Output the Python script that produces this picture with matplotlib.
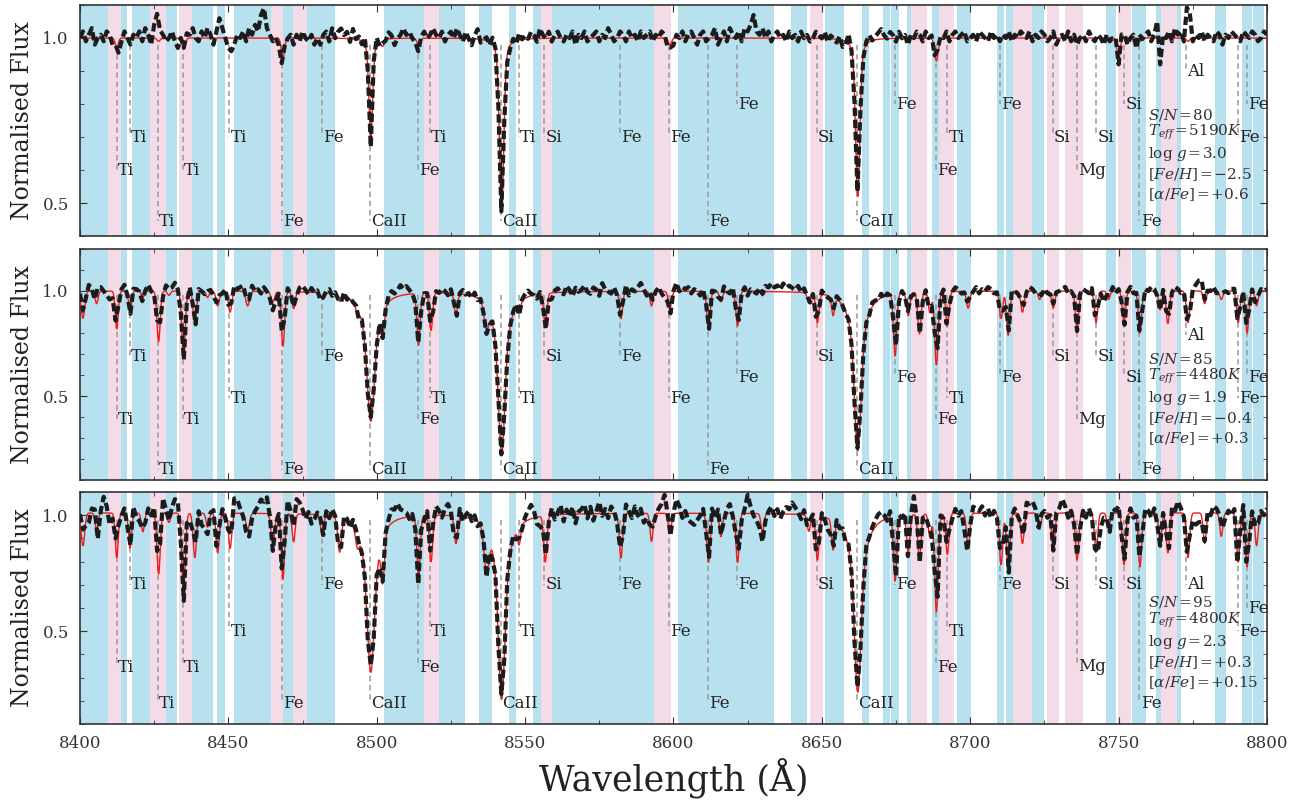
import numpy as np
import matplotlib.pyplot as plt
from matplotlib.ticker import MultipleLocator

plt.rcParams['font.family'] = ['DejaVu Serif']
plt.rcParams['mathtext.fontset'] = 'dejavuserif'

# shaded wavelength windows (Angstrom)
blue_bands = [(8400.0, 8409.3), (8413.8, 8415.8), (8417.4, 8423.6), (8428.9, 8432.8),
              (8437.6, 8444.9), (8446.2, 8448.9), (8451.9, 8464.4), (8468.3, 8471.7),
              (8476.4, 8485.9), (8502.4, 8515.9), (8521.0, 8529.7), (8534.5, 8538.9),
              (8544.6, 8546.9), (8552.5, 8555.3), (8559.1, 8593.5), (8601.6, 8633.9),
              (8639.6, 8644.9), (8651.2, 8657.5), (8663.5, 8665.9), (8670.5, 8673.0),
              (8673.3, 8676.0), (8678.6, 8680.1), (8687.0, 8689.5), (8695.5, 8700.4),
              (8709.0, 8711.4), (8712.0, 8714.5), (8720.9, 8724.9), (8745.6, 8749.1),
              (8754.5, 8759.1), (8762.6, 8764.2), (8769.6, 8771.1), (8782.6, 8786.1),
              (8791.5, 8795.1), (8795.4, 8799.1)]
pink_bands = [(8409.3, 8413.8), (8423.6, 8428.9), (8433.4, 8437.6), (8464.4, 8468.3),
              (8471.7, 8476.4), (8515.9, 8521.0), (8555.3, 8559.1), (8593.5, 8599.1),
              (8646.0, 8650.5), (8680.1, 8685.3), (8689.5, 8694.5), (8714.5, 8720.9),
              (8725.9, 8729.8), (8732.0, 8737.9), (8749.7, 8754.1), (8764.2, 8769.6)]

# absorption lines of the model spectra: centre, width, depth in each panel
line_wl = [8401.0, 8405.6, 8412.4, 8416.9, 8421.2, 8426.5, 8430.0, 8434.9, 8438.7, 8443.0,
           8446.4, 8450.6, 8456.5, 8465.0, 8468.4, 8472.0, 8481.6, 8487.5, 8493.5, 8502.0,
           8514.1, 8518.3, 8526.7, 8537.0, 8548.0, 8556.8, 8582.3, 8592.6, 8598.8, 8611.8,
           8616.0, 8621.6, 8630.0, 8645.6, 8648.5, 8653.8, 8674.7, 8679.1, 8682.9, 8686.4,
           8688.6, 8692.3, 8699.3, 8710.4, 8712.8, 8717.6, 8723.4, 8728.0, 8736.0, 8742.4,
           8746.6, 8750.0, 8751.8, 8757.2, 8764.0, 8766.6, 8773.4, 8779.0, 8784.6, 8790.3,
           8793.3, 8796.5]
line_sigma = [0.6, 0.5, 0.5, 0.5, 0.5, 0.55, 0.5, 0.6, 0.55, 0.5,
              0.55, 0.55, 0.6, 0.6, 0.55, 0.5, 0.5, 0.6, 0.6, 0.6,
              0.55, 0.55, 0.55, 0.8, 0.5, 0.55, 0.55, 0.5, 0.55, 0.55,
              0.5, 0.55, 0.5, 0.5, 0.55, 0.5, 0.55, 0.55, 0.55, 0.5,
              0.6, 0.55, 0.55, 0.55, 0.55, 0.55, 0.5, 0.55, 0.55, 0.55,
              0.5, 0.5, 0.55, 0.55, 0.5, 0.55, 0.55, 0.5, 0.5, 0.55,
              0.55, 0.5]
depth_p1 = [0.0, 0.0, 0.03, 0.0, 0.0, 0.01, 0.0, 0.03, 0.0, 0.0,
            0.0, 0.0, 0.0, 0.0, 0.06, 0.0, 0.0, 0.0, 0.0, 0.02,
            0.02, 0.0, 0.0, 0.0, 0.0, 0.0, 0.0, 0.0, 0.02, 0.0,
            0.0, 0.0, 0.0, 0.0, 0.0, 0.0, 0.0, 0.0, 0.0, 0.0,
            0.07, 0.0, 0.0, 0.0, 0.0, 0.0, 0.0, 0.0, 0.0, 0.0,
            0.0, 0.07, 0.0, 0.01, 0.0, 0.0, 0.01, 0.0, 0.0, 0.0,
            0.0, 0.0]
depth_p2 = [0.13, 0.06, 0.18, 0.10, 0.03, 0.24, 0.02, 0.30, 0.16, 0.03,
            0.07, 0.10, 0.07, 0.05, 0.26, 0.08, 0.03, 0.03, 0.03, 0.13,
            0.25, 0.18, 0.10, 0.12, 0.05, 0.15, 0.13, 0.07, 0.08, 0.18,
            0.05, 0.165, 0.02, 0.05, 0.14, 0.09, 0.30, 0.11, 0.20, 0.10,
            0.35, 0.165, 0.08, 0.13, 0.21, 0.10, 0.04, 0.08, 0.18, 0.15,
            0.04, 0.0, 0.15, 0.20, 0.09, 0.155, 0.15, 0.06, 0.04, 0.15,
            0.20, 0.07]
depth_p3 = [0.14, 0.07, 0.19, 0.15, 0.08, 0.26, 0.04, 0.34, 0.19, 0.06,
            0.17, 0.15, 0.07, 0.13, 0.28, 0.12, 0.09, 0.15, 0.07, 0.22,
            0.27, 0.20, 0.12, 0.20, 0.08, 0.20, 0.19, 0.12, 0.08, 0.21,
            0.10, 0.21, 0.08, 0.07, 0.19, 0.13, 0.28, 0.16, 0.19, 0.10,
            0.42, 0.175, 0.14, 0.22, 0.25, 0.13, 0.07, 0.15, 0.20, 0.16,
            0.07, 0.0, 0.22, 0.23, 0.13, 0.17, 0.19, 0.13, 0.10, 0.21,
            0.23, 0.14]

# Ca II triplet: gaussian core + lorentzian wings per panel
caii_wl = [8498.0, 8542.1, 8662.1]
caii_core = [[0.20, 0.36, 0.32], [0.30, 0.40, 0.40], [0.33, 0.42, 0.40]]
caii_core_sigma = [[0.6, 0.7, 0.7], [1.1, 1.0, 1.0], [1.1, 1.0, 1.0]]
caii_wing = [[0.11, 0.17, 0.16], [0.32, 0.37, 0.36], [0.35, 0.375, 0.365]]
caii_wing_hwhm = [[0.9, 1.1, 1.1], [2.6, 2.5, 2.5], [2.6, 2.6, 2.6]]
continuum = [1.0, 1.0, 1.01]

# identified lines and label heights in each panel
label_wl = [8412.4, 8416.9, 8426.2, 8434.6, 8450.3, 8468.1, 8481.5, 8497.8, 8513.8, 8517.8,
            8541.8, 8547.9, 8556.4, 8582.0, 8598.6, 8611.5, 8621.3, 8648.2, 8661.8, 8674.6,
            8688.5, 8692.3, 8710.0, 8727.8, 8735.9, 8742.4, 8751.8, 8757.0, 8772.7, 8790.3,
            8793.2]
label_txt = ['Ti', 'Ti', 'Ti', 'Ti', 'Ti', 'Fe', 'Fe', 'CaII', 'Fe', 'Ti',
             'CaII', 'Ti', 'Si', 'Fe', 'Fe', 'Fe', 'Fe', 'Si', 'CaII', 'Fe',
             'Fe', 'Ti', 'Fe', 'Si', 'Mg', 'Si', 'Si', 'Fe', 'Al', 'Fe',
             'Fe']
label_y_p1 = [0.60, 0.70, 0.445, 0.60, 0.70, 0.445, 0.70, 0.445, 0.60, 0.70,
              0.445, 0.70, 0.70, 0.70, 0.70, 0.445, 0.80, 0.70, 0.445, 0.80,
              0.60, 0.70, 0.80, 0.70, 0.60, 0.70, 0.80, 0.445, 0.90, 0.70,
              0.80]
label_y_p2 = [0.39, 0.69, 0.15, 0.39, 0.49, 0.15, 0.69, 0.15, 0.39, 0.49,
              0.15, 0.49, 0.69, 0.69, 0.49, 0.15, 0.59, 0.69, 0.15, 0.59,
              0.39, 0.49, 0.59, 0.69, 0.39, 0.69, 0.59, 0.15, 0.79, 0.49,
              0.59]
label_y_p3 = [0.345, 0.70, 0.19, 0.345, 0.50, 0.19, 0.70, 0.19, 0.345, 0.50,
              0.19, 0.50, 0.70, 0.70, 0.50, 0.19, 0.70, 0.70, 0.19, 0.70,
              0.345, 0.50, 0.70, 0.70, 0.35, 0.70, 0.70, 0.19, 0.70, 0.50,
              0.60]

# observed minus model, in units of 0.01, one value per Angstrom from 8400 to 8800
resid_p1 = [0, 2, -1, 1, 3, -2, 0, 1, -1, 2,
            1, -2, 0, -3, -1, 2, 0, -2, 1, 0,
            2, -1, 3, 1, -2, 4, 8, 3, 1, -1,
            0, 2, -1, -3, 1, 0, 2, 1, 3, 0,
            -1, 2, 0, 3, 1, -2, 2, 6, 3, 0,
            -3, -4, -2, 1, 0, 2, -1, 3, 1, 4,
            2, 7, 9, 3, 1, -1, 0, -2, -3, 1,
            0, 1, -2, 1, -1, 2, 0, -1, 1, -2,
            0, -2, 1, 2, -1, 3, 0, 2, 3, 1,
            2, -1, 3, 0, 1, -1, 2, 0, -2, 3,
            2, -1, 1, 0, 2, 1, -2, 0, 1, 3,
            1, 2, 0, -1, -2, 1, 2, 0, 1, 3,
            1, 0, 2, -1, 1, 2, 0, 3, 1, -1,
            2, 0, -2, 1, 3, -1, 0, 1, -1, 2,
            1, -2, 0, 1, -2, -1, 1, -1, 2, 0,
            1, 0, 2, 1, -1, 3, 1, 0, 2, -1,
            1, 2, 0, -1, 1, 0, 2, -2, 1, 0,
            2, -1, 0, 1, 2, -1, 1, 0, 3, 1,
            -1, 0, 2, 1, -1, 2, 0, 1, -1, 2,
            0, 1, 2, -1, 1, 0, 2, 1, -2, -1,
            -2, 1, 0, 2, -1, 1, 2, 0, -2, 1,
            2, -1, 0, 1, 3, -2, 0, 2, -1, 3,
            1, 0, 2, -1, 3, 2, 4, 7, 2, 1,
            3, 0, 2, -1, 1, 2, 0, 1, -1, 2,
            0, 1, -1, 2, 0, 1, -1, 0, 2, 1,
            0, 2, -1, 1, 0, -1, 1, -2, -1, 3,
            0, -2, 1, 2, -1, 1, 2, 0, 1, 2,
            3, 1, 0, 2, 1, -1, 2, 0, 1, -2,
            1, 0, 2, 1, -1, 2, 0, 1, -1, 2,
            1, 0, 2, -1, 1, 2, 0, 1, 2, -1,
            0, 1, -1, 2, 1, 0, -1, 2, 0, 1,
            -1, 1, 0, 2, -1, 1, 0, 2, 1, 0,
            2, -1, 1, 0, 2, 1, -1, 0, 2, -2,
            0, 1, -1, 2, -1, 1, -2, 0, 1, -1,
            2, 0, -1, 1, 0, -2, 1, -1, 0, 1,
            -1, 2, 1, -2, 0, 1, -3, 2, 0, 1,
            2, -1, 1, 5, -8, 1, 0, 2, -1, 3,
            1, 2, -1, 10, 8, -1, 1, 0, 2, -1,
            1, 0, -1, 2, 1, -2, 1, 0, 2, 1,
            0, -1, 2, 1, 0, 2, 1, -1, 0, 2,
            1]
resid_p2 = [2, 4, 0, 3, 1, -1, 6, 2, 0, -2,
            -4, -3, -1, 2, 1, 3, 0, -1, 2, 1,
            0, -2, 1, 3, 0, -1, 2, 1, -2, 3,
            3, 2, 4, 1, -1, -3, 0, 2, 1, -2,
            2, 0, -1, 3, 1, -2, 0, 2, -1, 1,
            -1, 2, 3, 1, 2, 3, 2, 1, 3, 0,
            1, -1, 2, 0, -2, -4, -3, 0, 1, 2,
            2, 0, 1, -1, 2, 3, 1, -1, 2, 0,
            1, -2, 0, 1, 2, -1, 1, 0, -1, 2,
            -1, 1, 0, 2, -2, 1, 0, -1, 2, 1,
            0, 2, -1, 1, 3, 4, 2, 3, 5, 3,
            4, 2, 0, -1, 1, -2, 0, 1, 2, -1,
            1, 0, 2, 1, -1, 2, 0, -2, 1, 2,
            0, 1, -1, 2, -1, 1, 0, -2, -1, 1,
            0, 2, -1, 1, -2, 0, 1, 2, -1, 1,
            2, 3, 1, 0, -2, 1, -1, -3, -2, -3,
            1, 2, 0, -1, 3, 1, -2, 2, 0, 1,
            3, 0, -1, 2, 1, -2, 4, 1, 0, -1,
            2, -1, 0, 1, 3, -2, 1, 0, 2, 4,
            1, -2, 3, 1, 0, 2, -1, -3, -2, -3,
            1, 4, 0, 2, 1, 2, -1, 1, 0, -2,
            1, 0, -1, 2, 0, -2, 1, 3, 0, -1,
            2, 1, -1, 0, 2, -2, 1, 0, -1, 2,
            1, 3, 2, 4, 2, 3, 1, 4, 2, 3,
            2, 1, 3, 0, 2, 1, -1, 0, -2, 1,
            2, 0, -1, 1, 3, 2, 1, 0, -1, 1,
            0, -1, 1, 2, 0, 1, -1, 2, 1, 0,
            2, -1, 1, 0, 2, 1, -2, 1, 0, 2,
            1, -1, 2, 0, -2, 1, 0, -1, 2, 1,
            0, 2, -1, 1, 0, 2, 1, -1, 0, 2,
            1, 0, 2, -1, 1, 0, 2, 1, -1, 0,
            1, -2, 0, 1, 2, 0, -1, 2, 1, 0,
            2, 1, -1, 2, 0, 1, -1, 0, 2, 1,
            0, 1, 2, -1, 0, 1, -1, 2, 1, 0,
            -1, 2, 0, 1, -1, -5, 0, 1, 2, -1,
            1, 0, -2, 1, 2, -1, 1, 0, -2, 1,
            0, 2, 1, -1, 0, 2, -1, 1, 0, 2,
            1, -1, 0, -2, -2, 1, 3, 5, 6, 2,
            1, 0, 2, -1, 1, 2, 0, -1, 1, 2,
            0, -1, 1, 2, 0, 1, -1, 2, 1, 0,
            1]
resid_p3 = [3, 7, -2, -4, 2, 5, -6, 1, 7, 3,
            -5, -2, 3, 4, -1, 2, -3, 1, 4, -2,
            -3, 1, -2, 2, -1, 3, 1, 4, 7, 2,
            1, 3, 6, 5, -2, -4, 2, -3, 1, 4,
            2, -5, -6, -3, 1, 2, -1, 4, 2, -2,
            1, 3, 7, 6, 2, -1, -3, -5, -2, 1,
            3, 6, 5, 7, 2, -3, -1, 1, -2, 4,
            6, 3, 7, 8, 5, 2, -2, 1, -4, -2,
            1, 3, -2, 2, -1, 3, 1, -1, -2, 2,
            1, -2, 3, 5, 2, -1, 1, -2, 3, -1,
            2, -3, 1, 4, 3, 6, 5, 7, 4, 3,
            2, -1, 1, -2, -3, 1, -2, 3, 2, 5,
            4, 2, -1, 3, 5, 2, -3, 1, 4, -2,
            1, 3, -1, 2, -2, 1, 3, -1, 2, -3,
            1, -2, 2, -1, 3, 1, 2, -2, 3, -1,
            2, 4, 6, 3, -3, -4, 1, 2, -1, 3,
            -2, 1, 4, -3, 2, -1, 3, -4, 1, 2,
            4, -2, 3, -3, 1, 5, -1, 2, -2, 3,
            1, -3, 2, -1, 4, 1, -2, 3, -1, 2,
            -4, -2, 1, 3, -1, 2, 4, 8, 3, -2,
            1, 6, 3, -2, 1, -3, -4, -5, -3, -1,
            2, -1, 1, 4, -2, 3, 1, -2, 2, 4,
            -1, 3, 1, -2, 2, 8, 3, -1, -3, -5,
            -4, -2, 1, 3, -1, 2, -2, 1, 3, 2,
            5, 3, 1, -2, 2, -1, 3, 1, -2, 1,
            2, -1, -5, -3, 1, 2, -1, 1, -2, 2,
            1, -2, 2, 1, -1, 3, 1, 2, 3, 4,
            4, 2, -1, 3, 1, -2, 2, -1, 3, -2,
            4, 8, 3, -2, 1, -1, 2, -3, 1, -2,
            2, -1, 3, 1, -2, 2, -1, 1, -6, -4,
            1, 3, 2, 1, 3, -1, 2, -2, 1, -1,
            2, -1, 3, -2, 1, 2, -1, 3, 1, 5,
            4, 5, 2, -1, 3, 1, -2, 2, -1, 3,
            2, 6, 3, -2, 1, -1, 2, -3, 1, -2,
            2, -1, -3, -8, -6, -2, 1, -3, 2, 1,
            3, -2, 1, -1, 2, -2, 1, 3, -1, 2,
            1, -2, 2, -3, -1, 2, 1, -2, 3, 1,
            5, 2, -1, -2, 1, -3, -5, -4, -2, 1,
            2, -1, 3, 2, 4, 1, -2, 1, -1, 3,
            -3, 2, 5, -1, -2, 1, 3, 4, 1, -1,
            2]

# stellar parameters
snr = ['80', '85', '95']
teff = ['5190', '4480', '4800']
logg = ['3.0', '1.9', '2.3']
feh = ['\u22122.5', '\u22120.4', '+0.3']
alpha_fe = ['+0.6', '+0.3', '+0.15']

depths = [depth_p1, depth_p2, depth_p3]
resids = [resid_p1, resid_p2, resid_p3]
label_ys = [label_y_p1, label_y_p2, label_y_p3]
ylims = [(0.4, 1.1), (0.1, 1.2), (0.1, 1.1)]


def model_flux(wl, k):
    f = np.full_like(wl, continuum[k])
    for c, s, d in zip(line_wl, line_sigma, depths[k]):
        f *= 1 - d * np.exp(-0.5 * ((wl - c) / s) ** 2)
    for j, c in enumerate(caii_wl):
        core = caii_core[k][j] * np.exp(-0.5 * ((wl - c) / caii_core_sigma[k][j]) ** 2)
        wing = caii_wing[k][j] / (1 + ((wl - c) / caii_wing_hwhm[k][j]) ** 2)
        f *= 1 - core - wing
    return f


wl_model = np.arange(8400, 8800.05, 0.1)
wl_obs = np.arange(8400, 8801, 1.0)

fig = plt.figure(figsize=(13, 8.05), dpi=100)
boxes = [(0.0615, 0.7068, 0.9131, 0.2870),
         (0.0615, 0.4037, 0.9131, 0.2870),
         (0.0615, 0.1006, 0.9131, 0.2882)]
text_offsets = [114, 131, 153, 174, 194]
eq = '\u200a=\u200a'

for k in range(3):
    ax = fig.add_axes(boxes[k])
    for a, b in blue_bands:
        ax.axvspan(a, b, color='#b7e1ee', lw=0, zorder=0)
    for a, b in pink_bands:
        ax.axvspan(a, b, color='#f3dbe8', lw=0, zorder=0)

    for x, t, y in zip(label_wl, label_txt, label_ys[k]):
        ax.plot([x, x], [0.98, y], color='#999999', lw=1.1,
                linestyle=(0, (3.5, 2.5)), zorder=1)
        ax.text(x + 0.4, y, t, ha='left', va='center', fontsize=12,
                color='#222222', zorder=2)

    ax.plot(wl_model, model_flux(wl_model, k), color='#ee1c1c', lw=1.0, zorder=3)
    obs = model_flux(wl_obs, k) + np.array(resids[k]) / 100.0
    ax.plot(wl_obs, obs, color='#1c1c1c', lw=3.0, linestyle=(0, (2.0, 0.9)), zorder=4)

    params = [r'$S/N$' + eq + snr[k],
              r'$T_{eff}$' + eq + teff[k] + r'$K$',
              r'log $g$' + eq + logg[k],
              r'$[Fe/H]$' + eq + feh[k],
              r'$[\alpha/Fe]$' + eq + alpha_fe[k]]
    for p, off in zip(params, text_offsets):
        ax.text(8760.0, 1 - off / 231.0, p, transform=ax.get_xaxis_transform(),
                ha='left', va='baseline', fontsize=11, color='#333333', zorder=5)

    ax.set_xlim(8400, 8800)
    ax.set_ylim(*ylims[k])
    ax.xaxis.set_major_locator(MultipleLocator(50))
    ax.xaxis.set_minor_locator(MultipleLocator(25))
    ax.yaxis.set_major_locator(MultipleLocator(0.5))
    ax.yaxis.set_minor_locator(MultipleLocator(0.1))
    ax.tick_params(which='both', direction='in', top=True, right=True,
                   labelsize=12, pad=8, colors='#333333')
    ax.tick_params(which='major', length=5)
    ax.tick_params(which='minor', length=3)
    for s in ax.spines.values():
        s.set_color('#333333')
        s.set_linewidth(1.2)
    ax.set_ylabel('Normalised Flux', fontsize=17, color='#222222', labelpad=6)
    if k < 2:
        ax.tick_params(labelbottom=False)
    else:
        ax.set_xlabel('Wavelength (Å)', fontsize=25, color='#222222', labelpad=4)

fig.savefig('out.png', dpi=100)
